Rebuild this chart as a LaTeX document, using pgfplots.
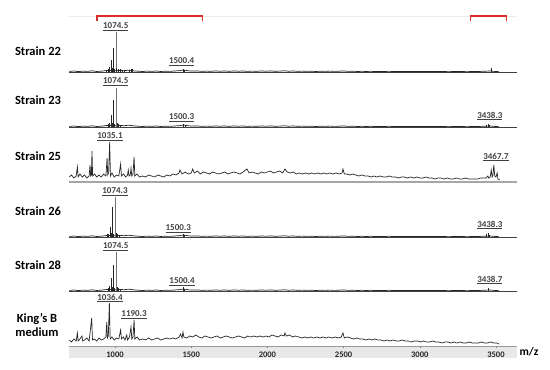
\documentclass[border=0pt]{standalone}
\usepackage{fontspec}
\setmainfont{Carlito}
\usepackage{pgfplots}
\usepackage{pgfplotstable}
\pgfplotsset{compat=1.18}

\definecolor{cspec}{RGB}{38,38,38}
\definecolor{cbracket}{RGB}{220,45,45}
\definecolor{cband}{RGB}{232,232,232}

% baseline noise shared by the four clean strain spectra (height in px above baseline)
\pgfplotstableread{
mz h
700 0.5
730 1.0
760 0.4
790 0.9
820 0.6
850 1.2
880 0.5
910 0.8
940 1.4
970 1.5
1000 1.2
1030 1.6
1060 1.3
1090 1.8
1120 1.2
1150 0.8
1180 0.5
1210 0.9
1240 0.6
1270 1.0
1300 0.5
1330 0.8
1360 0.6
1390 1.0
1420 1.3
1450 2.0
1480 1.2
1510 0.9
1540 1.1
1570 0.6
1600 0.9
1630 0.7
1660 1.1
1690 0.8
1720 1.0
1750 0.7
1780 1.1
1810 0.8
1840 1.0
1870 0.6
1900 0.9
1930 0.7
1960 1.0
1990 0.8
2020 1.1
2050 0.7
2080 0.9
2110 1.2
2140 0.8
2170 1.0
2200 0.7
2230 0.9
2260 0.6
2290 0.8
2320 0.5
2350 0.8
2380 0.6
2410 0.9
2440 0.6
2470 0.8
2500 1.1
2530 0.6
2560 0.8
2590 0.5
2620 0.7
2650 0.5
2680 0.7
2710 0.4
2740 0.6
2770 0.5
2800 0.7
2830 0.4
2860 0.6
2890 0.4
2920 0.6
2950 0.5
2980 0.6
3010 0.4
3040 0.5
3070 0.4
3100 0.6
3130 0.4
3160 0.5
3190 0.3
3220 0.5
3250 0.4
3280 0.5
3310 0.3
3340 0.5
3370 0.4
3400 0.6
3430 0.8
3460 1.0
3490 0.6
3520 0.3
}\flatnoise

% Strain 25 (height in px above its axis line)
\pgfplotstableread{
mz h
700 5
715 7
730 4
745 6
753 15
758 5
770 8
785 5
800 7
815 4
830 6
836 17
840 6
845 7
849 31
853 6
865 8
880 5
895 7
910 5
925 8
940 6
948 24
952 7
958 9
965 40
970 6
980 9
995 5
1010 7
1025 6
1037 18
1042 6
1055 8
1070 5
1082 7
1087 12
1092 6
1100 7
1105 14
1110 6
1118 8
1125 25
1130 6
1145 8
1160 5
1180 6
1200 5
1220 7
1240 6
1260 5
1280 7
1300 6
1320 5
1340 7
1360 6
1380 8
1400 7
1420 9
1426 12
1440 8
1460 10
1480 8
1500 9
1510 13
1520 9
1540 11
1560 8
1580 10
1600 9
1620 8
1640 10
1660 9
1680 8
1700 9
1720 10
1740 8
1760 9
1780 10
1800 9
1820 8
1840 10
1866 13
1880 9
1900 10
1920 9
1940 8
1960 10
1980 9
2000 10
2020 11
2040 9
2060 10
2080 11
2100 9
2115 13
2130 10
2150 9
2170 10
2190 8
2210 9
2230 8
2250 9
2270 8
2290 9
2310 8
2330 9
2350 8
2370 9
2390 8
2410 9
2430 8
2450 9
2470 8
2490 9
2496 13
2505 8
2520 8
2540 7
2560 8
2580 7
2600 6
2620 7
2640 6
2660 6
2680 5
2700 6
2720 5
2740 6
2760 5
2780 5
2800 6
2820 5
2840 5
2860 4
2880 5
2900 5
2920 4
2940 5
2960 4
2980 5
3000 4
3020 4
3040 5
3060 4
3080 4
3100 3
3120 4
3140 4
3160 3
3180 4
3200 3
3220 3
3240 4
3260 3
3280 3
3300 4
3320 3
3340 3
3360 3
3380 3
3400 4
3420 4
3435 4
3447 6
3452 4
3462 5
3469 12
3475 5
3480 7
3486 17
3492 6
3500 5
3508 9
3513 3
3525 2
}\strainXXV

% King's B medium
\pgfplotstableread{
mz h
700 6
715 4
730 7
745 5
753 13
758 5
770 7
783 10
788 5
800 6
815 8
830 5
847 28
852 6
865 7
880 5
895 8
910 6
925 7
940 9
946 24
950 8
956 10
963 43
968 7
980 9
995 6
1010 8
1025 7
1037 16
1042 7
1055 9
1065 6
1077 11
1082 6
1095 9
1105 19
1110 7
1118 9
1125 26
1130 7
1145 9
1160 6
1180 7
1200 6
1220 8
1240 6
1260 7
1280 8
1300 6
1320 7
1340 8
1360 7
1380 8
1400 7
1420 9
1430 12
1440 8
1446 14
1452 9
1470 8
1490 10
1510 9
1530 11
1550 9
1570 8
1590 10
1610 9
1630 8
1650 9
1670 10
1690 8
1710 9
1730 10
1750 9
1770 8
1790 9
1810 10
1830 9
1850 8
1870 10
1890 9
1910 10
1930 9
1950 10
1970 9
1990 10
2010 9
2030 11
2050 10
2070 9
2090 11
2110 10
2115 13
2125 10
2145 11
2165 9
2185 10
2205 9
2225 8
2245 9
2265 8
2285 9
2305 8
2325 9
2345 8
2365 9
2385 8
2405 9
2425 8
2445 9
2465 8
2485 9
2496 13
2505 8
2525 9
2545 8
2565 7
2585 8
2605 7
2625 7
2645 6
2665 7
2685 6
2705 7
2725 6
2745 6
2765 5
2785 6
2805 5
2825 6
2845 5
2865 5
2885 6
2905 5
2925 5
2945 4
2965 5
2985 5
3005 4
3025 5
3045 4
3065 4
3085 5
3105 4
3125 4
3145 3
3165 4
3185 4
3205 3
3225 4
3245 3
3265 4
3285 3
3305 3
3325 4
3345 3
3365 3
3385 3
3405 4
3425 3
3445 3
3465 4
3485 3
3505 3
3520 2
}\kingsB

\pgfplotsset{
  panel/.style={scale only axis, width=448pt, height=50pt,
    xmin=698, xmax=3638, ymin=0, ymax=50,
    axis y line=none, axis x line*=bottom, xtick=\empty, ytick=\empty,
    x axis line style={black!75, line width=0.6pt},
    clip=false, anchor=south west},
  specline/.style={cspec, line width=0.7pt},
  stick/.style={cspec, ycomb, line width=0.7pt},
  mainpk/.style={black!55, ycomb, line width=0.5pt},
}
\tikzset{plab/.style={font=\bfseries\fontsize{9}{10}\selectfont, text=black!75, inner sep=0.5pt}}

\begin{document}
\begin{tikzpicture}
\path[use as bounding box] (0pt,0pt) rectangle (550pt,370pt);

% ---- Strain 22 ----
\begin{axis}[panel, at={(69pt,298pt)}]
  \draw[black!8, line width=0.5pt] (axis cs:698,56) -- (axis cs:3638,56);
  \addplot[specline] table[x=mz, y=h] {\flatnoise};
  \addplot[mainpk] coordinates {(1005,40)};
  \addplot[stick] coordinates {(940,2) (954,3) (961,5) (974,12) (980,4)
    (989,24) (995,3) (1012,4) (1020,3) (1033,3) (1045,2) (1060,2)
    (1092,2) (1108,3) (1115,3) (1446,3) (1455,2) (3467,4)};
  \node[plab] at (axis cs:1005,45) {\underline{1074.5}};
  \node[plab] at (axis cs:1437,10) {\underline{1500.4}};
  \draw[cbracket, line width=1.1pt] (axis cs:882,51) |- (axis cs:1577,56) -- (axis cs:1577,51);
  \draw[cbracket, line width=1.1pt] (axis cs:3334,51) |- (axis cs:3570,56) -- (axis cs:3570,51);
\end{axis}

% ---- Strain 23 ----
\begin{axis}[panel, at={(69pt,243pt)}]
  \addplot[specline] table[x=mz, y=h] {\flatnoise};
  \addplot[mainpk] coordinates {(1005,39)};
  \addplot[stick] coordinates {(954,3) (961,4) (974,12) (981,4) (989,27)
    (996,3) (1013,4) (1022,3) (1035,2) (1446,3) (1460,2)
    (3440,2) (3447,3) (3455,2)};
  \node[plab] at (axis cs:1005,45) {\underline{1074.5}};
  \node[plab] at (axis cs:1437,9) {\underline{1500.3}};
  \node[plab] at (axis cs:3460,11) {\underline{3438.3}};
\end{axis}

% ---- Strain 25 ----
\begin{axis}[panel, at={(69pt,188pt)}, x axis line style={black!35, line width=1.3pt}]
  \addplot[specline] table[x=mz, y=h] {\strainXXV};
  \node[plab] at (axis cs:967,45) {\underline{1035.1}};
  \node[plab] at (axis cs:3500,25) {\underline{3467.7}};
\end{axis}

% ---- Strain 26 ----
\begin{axis}[panel, at={(69pt,133pt)}]
  \addplot[specline] table[x=mz, y=h] {\flatnoise};
  \addplot[mainpk] coordinates {(1000,40)};
  \addplot[stick] coordinates {(950,3) (958,3) (967,10) (975,4) (985,30)
    (992,3) (1008,4) (1018,3) (1030,2) (1446,3) (1455,2)
    (3440,3) (3447,4) (3456,2)};
  \node[plab] at (axis cs:1000,45) {\underline{1074.3}};
  \node[plab] at (axis cs:1415,8) {\underline{1500.3}};
  \node[plab] at (axis cs:3460,12) {\underline{3438.3}};
\end{axis}

% ---- Strain 28 ----
\begin{axis}[panel, at={(69pt,79pt)}]
  \addplot[specline] table[x=mz, y=h] {\flatnoise};
  \addplot[mainpk] coordinates {(1005,39)};
  \addplot[stick] coordinates {(954,3) (961,5) (974,13) (981,4) (989,26)
    (996,3) (1013,4) (1022,3) (1035,2) (1446,4) (1455,2) (3447,3)};
  \node[plab] at (axis cs:1005,44) {\underline{1074.5}};
  \node[plab] at (axis cs:1440,9) {\underline{1500.4}};
  \node[plab] at (axis cs:3460,11) {\underline{3438.7}};
\end{axis}

% ---- King's B medium, with the m/z scale ----
\fill[cband] (69pt,12pt) rectangle (517pt,24pt);
\begin{axis}[panel, at={(69pt,24pt)},
  x axis line style={black!40, line width=0.7pt},
  xtick={1000,1500,2000,2500,3000,3500},
  xticklabels={1000,1500,2000,2500,3000,3500},
  minor x tick num=4, tick align=outside,
  major tick length=2.5pt, minor tick length=1.5pt,
  tick style={black!50, line width=0.4pt},
  xticklabel style={font=\bfseries\fontsize{8.5}{10}\selectfont, text=black!85, anchor=center, yshift=-6pt}]
  \addplot[specline] table[x=mz, y=h] {\kingsB};
  \node[plab] at (axis cs:967,48) {\underline{1036.4}};
  \node[plab] at (axis cs:1125,31) {\underline{1190.3}};
\end{axis}

% ---- row labels ----
\begin{scope}[every node/.style={font=\bfseries\fontsize{12.5}{14}\selectfont}]
  \node at (38pt,319pt) {Strain 22};
  \node at (38pt,270pt) {Strain 23};
  \node at (38pt,214pt) {Strain 25};
  \node at (38pt,159pt) {Strain 26};
  \node at (38pt,105pt) {Strain 28};
  \node[align=center] at (37pt,45pt) {King’s B\\medium};
\end{scope}
\node[font=\bfseries\fontsize{11.5}{13}\selectfont] at (529pt,18pt) {m/z};
\end{tikzpicture}
\end{document}
